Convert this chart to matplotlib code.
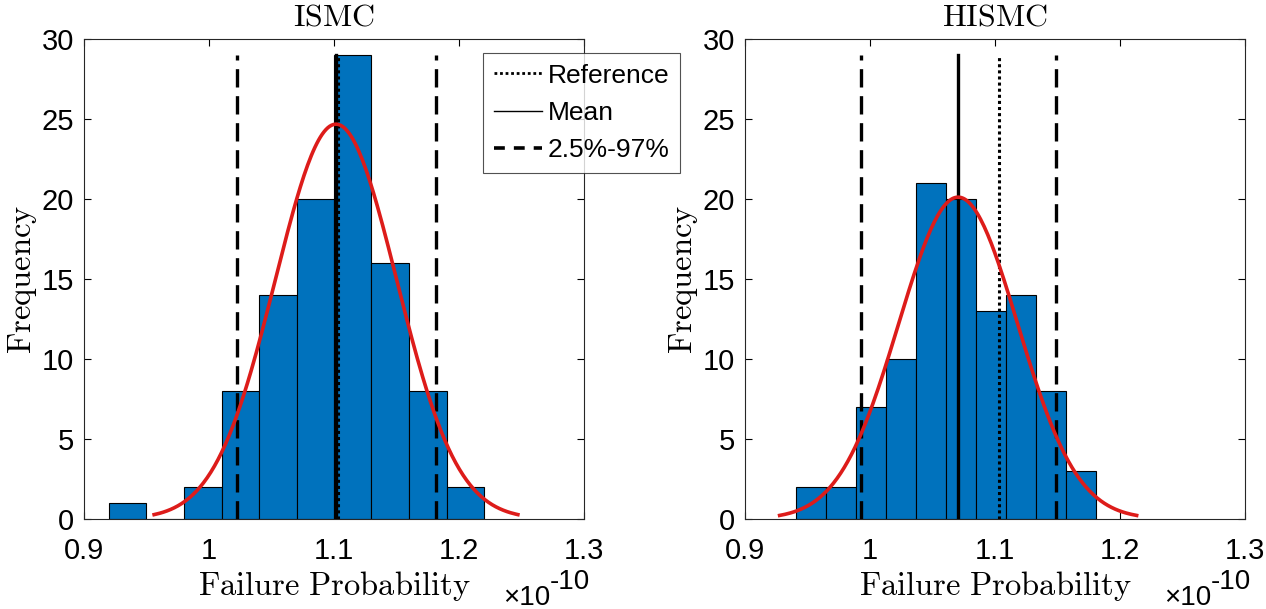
import matplotlib
matplotlib.use("Agg")
import matplotlib.pyplot as plt
import numpy as np
from matplotlib.lines import Line2D

plt.rcParams["font.family"] = ["Liberation Sans", "DejaVu Sans"]
plt.rcParams["mathtext.fontset"] = "cm"

# values in units of 1e-10
titles = ["ISMC", "HISMC"]
edges_ismc = [0.92, 0.95, 0.98, 1.01, 1.04, 1.07, 1.10, 1.13, 1.16, 1.19, 1.22]
counts_ismc = [1, 0, 2, 8, 14, 20, 29, 16, 8, 2]
edges_hismc = [0.941, 0.965, 0.989, 1.013, 1.037, 1.061, 1.085, 1.109, 1.133, 1.157, 1.181]
counts_hismc = [2, 2, 7, 10, 21, 20, 13, 14, 8, 3]

# fitted normal (mean, std), reference value, 2.5% / 97% quantiles
fit_mean = [1.1016, 1.0705]
fit_std = [0.0485, 0.0476]
reference = [1.1035, 1.1033]
q_low = [1.022, 0.9928]
q_high = [1.1817, 1.1489]
line_top = 29

x_ticks = [0.9, 1.0, 1.1, 1.2, 1.3]
x_ticklabels = ["0.9", "1", "1.1", "1.2", "1.3"]
y_ticks = [0, 5, 10, 15, 20, 25, 30]

W, H = 1266, 609
fig = plt.figure(figsize=(W / 100, H / 100), dpi=100)
positions = [
    [84 / W, 90 / H, 500 / W, 480 / H],
    [745 / W, 90 / H, 500 / W, 480 / H],
]
all_edges = [edges_ismc, edges_hismc]
all_counts = [counts_ismc, counts_hismc]

for i in range(2):
    ax = fig.add_axes(positions[i])
    edges = np.array(all_edges[i])
    counts = np.array(all_counts[i])
    widths = np.diff(edges)
    ax.bar(edges[:-1], counts, width=widths, align="edge",
           color="#0072BD", edgecolor="black", linewidth=0.8, zorder=2)

    # histfit-style normal curve over mean +/- 3 std
    mu, sd = fit_mean[i], fit_std[i]
    xs = np.linspace(mu - 3 * sd, mu + 3 * sd, 200)
    scale = counts.sum() * widths.mean()
    ys = scale * np.exp(-0.5 * ((xs - mu) / sd) ** 2) / (sd * np.sqrt(2 * np.pi))
    ax.plot(xs, ys, color="#DD1C1A", linewidth=2.6, zorder=4)

    ax.plot([mu, mu], [0, line_top], color="black", linewidth=2.4, zorder=3)
    ax.plot([reference[i]] * 2, [0, line_top], color="black", linewidth=2.2,
            linestyle=(0, (1, 1)), zorder=3)
    for q in (q_low[i], q_high[i]):
        ax.plot([q, q], [0, line_top], color="black", linewidth=2.4,
                linestyle=(0, (5.5, 2.6)), zorder=3)

    ax.set_xlim(0.9, 1.3)
    ax.set_ylim(0, 30)
    ax.set_xticks(x_ticks)
    ax.set_xticklabels(x_ticklabels)
    ax.set_yticks(y_ticks)
    ax.tick_params(direction="in", top=True, right=True, length=5,
                   labelsize=21, width=0.8)
    ax.tick_params(axis="x", pad=13)
    ax.tick_params(axis="y", pad=7)
    for s in ax.spines.values():
        s.set_linewidth(0.8)
        s.set_color("#262626")

    ax.set_title(r"$\mathrm{%s}$" % titles[i], fontsize=23, pad=10)
    ax.set_xlabel(r"$\mathrm{Failure\ Probability}$", fontsize=23.5, labelpad=3)
    ax.set_ylabel(r"$\mathrm{Frequency}$", fontsize=23.5, labelpad=2)
    # MATLAB-style exponent label
    ax.text(0.932, -0.179, "\u00d710", transform=ax.transAxes,
            fontsize=20, ha="right", va="baseline")
    ax.text(0.932, -0.145, "-10", transform=ax.transAxes,
            fontsize=20, ha="left", va="baseline")

handles = [
    Line2D([], [], color="black", linewidth=2.0, linestyle=(0, (1, 1))),
    Line2D([], [], color="black", linewidth=1.0),
    Line2D([], [], color="black", linewidth=2.6, linestyle=(0, (3, 2.5))),
]
leg = fig.legend(handles, ["Reference", "Mean", "2.5%-97%"],
                 loc="upper left", bbox_to_anchor=(483 / W, 1 - 53 / H),
                 fontsize=19, frameon=True, fancybox=False, handlelength=1.85,
                 handletextpad=0.2, borderpad=0.4, labelspacing=0.5,
                 borderaxespad=0)
leg.get_frame().set_edgecolor("#262626")
leg.get_frame().set_linewidth(0.8)

fig.savefig("out.png", dpi=100)
